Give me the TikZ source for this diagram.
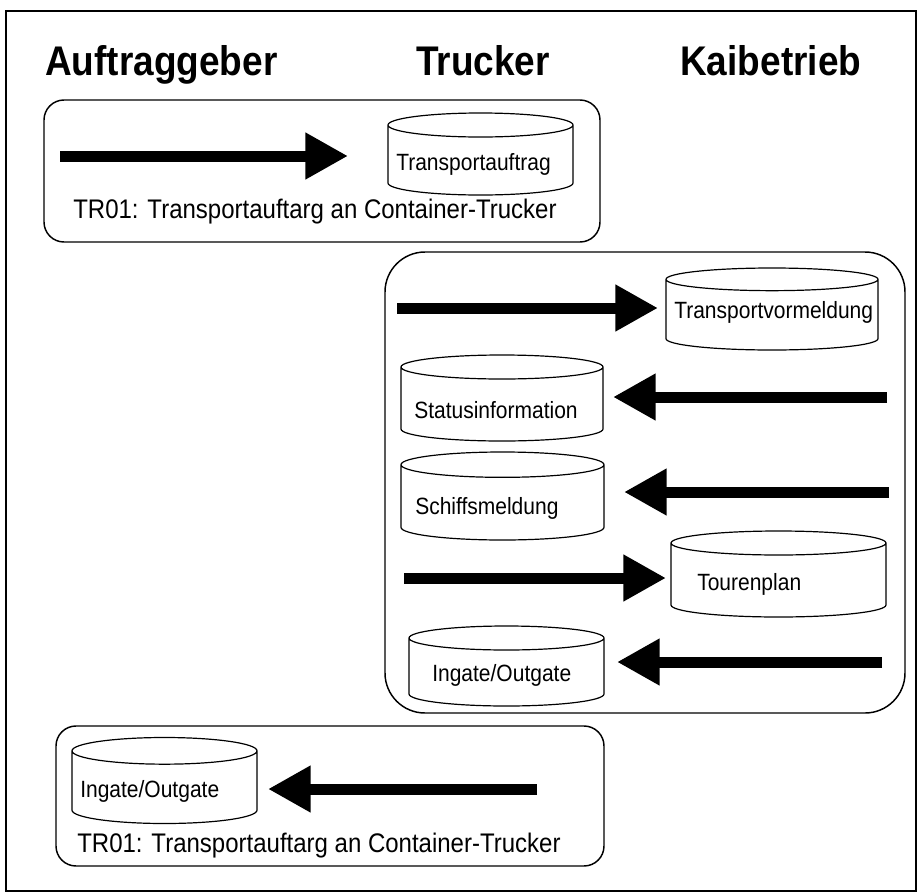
\documentclass[tikz,border=0pt]{standalone}
\usepackage{fontspec}
\setmainfont{Liberation Sans}
\usepackage{graphicx}
\usetikzlibrary{arrows.meta,calc}
\newcommand\vst[1]{\scalebox{1}[1.12]{#1}}
\newcommand\cylpath[2]{%
  \draw[cylline] let \p1=(#1.north west), \p2=(#1.south east), \n1={(\x2-\x1)/2} in
    (\x1,\y1-#2) -- (\x1,\y2+#2) arc[start angle=180,end angle=360,x radius=\n1,y radius=#2] -- (\x2,\y1-#2)
    (\x1+\n1,\y1-#2) ellipse[x radius=\n1,y radius=#2];
}
\begin{document}
\begin{tikzpicture}[x=0.75pt,y=-0.75pt,
  frameline/.style={draw,line width=1.5pt},
  group/.style={draw,line width=1.1pt,rounded corners=15pt},
  biggroup/.style={draw,line width=1.1pt,rounded corners=30pt},
  cylline/.style={draw,line width=0.9pt},
  head/.style={font=\fontsize{27.75}{30}\selectfont\bfseries,anchor=base west,inner sep=0pt},
  lbl/.style={font=\fontsize{18}{20}\selectfont,anchor=base west,inner sep=0pt},
  ctext/.style={font=\fontsize{15.75}{18}\selectfont,anchor=base west,inner sep=0pt},
  cyl/.style 2 args={minimum width=#1*0.75pt,minimum height=#2*0.75pt,inner sep=0pt,outer sep=0pt},
  flow/.style={line width=8.25pt,-{Triangle[length=32pt,width=33pt]}}
]
\useasboundingbox (0,0) rectangle (918,893);
\draw[frameline] (6,11) rectangle (916,891);

% headings
\node[head] (hA) at (45,75) {\vst{Auftraggeber}};
\node[head] (hT) at (416,75) {\vst{Trucker}};
\node[head] (hK) at (680,75) {\vst{Kaibetrieb}};

% group boxes
\draw[group] (44,100) rectangle (600,242);
\draw[biggroup] (385,252) rectangle (905,713);
\draw[group] (56,726) rectangle (604,866);

% cylinders
\node[cyl={185}{82}] (ta) at (480.5,154) {};
\node[cyl={212}{82}] (tv) at (772,309) {};
\node[cyl={202}{86}] (si) at (502,398) {};
\node[cyl={203}{88}] (sm) at (502.5,496) {};
\node[cyl={215}{86}] (tp) at (778.5,574) {};
\node[cyl={195}{80}] (io1) at (506.5,666) {};
\node[cyl={185}{86}] (io2) at (164.5,780.5) {};
\cylpath{ta}{9pt}
\cylpath{tv}{8.5pt}
\cylpath{si}{9pt}
\cylpath{sm}{9.5pt}
\cylpath{tp}{9pt}
\cylpath{io1}{9pt}
\cylpath{io2}{10pt}

% cylinder texts
\node[ctext] (xta) at (396,170) {\vst{Transportauftrag}};
\node[ctext] (xtv) at (674,318) {\vst{Transportvormeldung}};
\node[ctext] (xsi) at (414,418) {\vst{Statusinformation}};
\node[ctext] (xsm) at (415,514) {\vst{Schiffsmeldung}};
\node[ctext] (xtp) at (697,590) {\vst{Tourenplan}};
\node[ctext] (xio1) at (432,681) {\vst{Ingate/Outgate}};
\node[ctext] (xio2) at (80,797) {\vst{Ingate/Outgate}};

% labels
\node[lbl] (l1) at (73,218) {\vst{TR01: Transportauftarg an Container-Trucker}};
\node[lbl] (l2) at (77,852) {\vst{TR01: Transportauftarg an Container-Trucker}};

% arrows
\coordinate (t1) at (60,156);
\coordinate (t2) at (397,308);
\coordinate (t3) at (887,397);
\coordinate (t4) at (889,492);
\coordinate (t5) at (404,578);
\coordinate (t6) at (882,662);
\coordinate (t7) at (537,789);
\draw[flow,shorten >=30pt] (t1) -- (t1 -| ta.west);
\draw[flow,shorten >=6pt] (t2) -- (t2 -| tv.west);
\draw[flow,shorten >=7.5pt] (t3) -- (t3 -| si.east);
\draw[flow,shorten >=15pt] (t4) -- (t4 -| sm.east);
\draw[flow,shorten >=3.75pt] (t5) -- (t5 -| tp.west);
\draw[flow,shorten >=9.75pt] (t6) -- (t6 -| io1.east);
\draw[flow,shorten >=8.25pt] (t7) -- (t7 -| io2.east);
\end{tikzpicture}
\end{document}
